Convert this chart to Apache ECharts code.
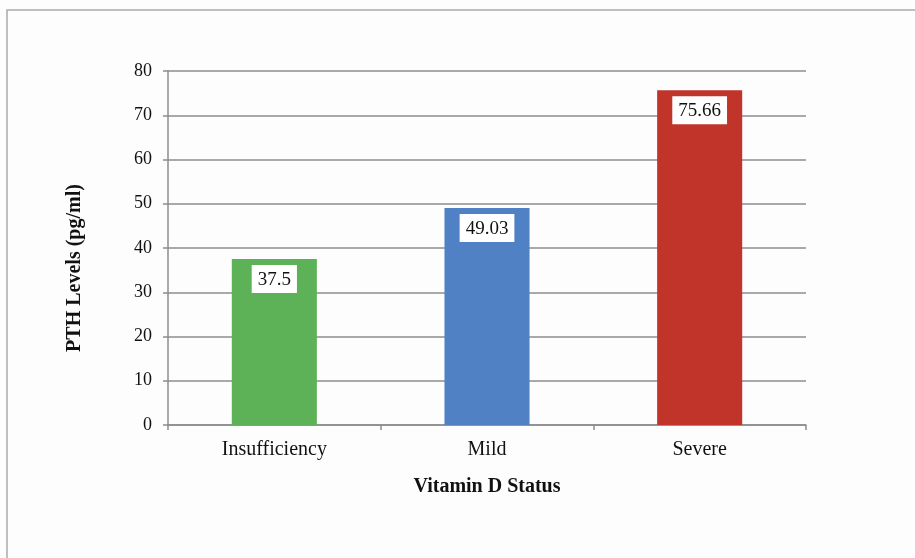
<!DOCTYPE html>
<html>
<head>
<meta charset="utf-8">
<script src="https://cdn.jsdelivr.net/npm/echarts@6/dist/echarts.min.js"></script>
<style>
  html, body { margin: 0; padding: 0; background: #fdfdfd; }
  #main { width: 915px; height: 558px; }
</style>
</head>
<body>
<div id="main"></div>
<script>
// data
var categories = ['Insufficiency', 'Mild', 'Severe'];
var pthValues = [37.5, 49.03, 75.66];
var barColors = ['#5db258', '#4f81c4', '#c0342a'];

var chart = echarts.init(document.getElementById('main'));
var serif = 'Liberation Serif';

var option = {
    backgroundColor: '#fdfdfd',
    animation: false,
    graphic: [{
        type: 'rect',
        shape: {x: 7, y: 10, width: 1000, height: 700},
        style: {fill: 'none', stroke: '#a9a9a9', lineWidth: 1.5}
    }],
    grid: {left: 168, top: 71, right: 109, bottom: 133},
    xAxis: {
        type: 'category',
        data: categories,
        name: 'Vitamin D Status',
        nameLocation: 'middle',
        nameGap: 52,
        nameTextStyle: {fontFamily: serif, fontSize: 20, fontWeight: 'bold', color: '#111'},
        axisLine: {lineStyle: {color: '#8c8c8c', width: 1.5}},
        axisTick: {show: true, length: 5, lineStyle: {color: '#8c8c8c', width: 1.5}},
        axisLabel: {fontFamily: serif, fontSize: 20, color: '#111', margin: 15}
    },
    yAxis: {
        type: 'value',
        min: 0,
        max: 80,
        interval: 10,
        name: 'PTH Levels (pg/ml)',
        nameLocation: 'middle',
        nameGap: 83,
        nameTextStyle: {fontFamily: serif, fontSize: 20, fontWeight: 'bold', color: '#111', padding: [0, 40, 0, 0]},
        axisLine: {show: true, lineStyle: {color: '#8c8c8c', width: 1.5}},
        axisTick: {show: true, length: 5, lineStyle: {color: '#8c8c8c', width: 1.5}},
        axisLabel: {fontFamily: serif, fontSize: 18, color: '#111', margin: 16},
        splitLine: {lineStyle: {color: '#8c8c8c', width: 1.5}}
    },
    series: [{
        type: 'bar',
        data: pthValues.map(function (v, i) {
            return {value: v, itemStyle: {color: barColors[i]}};
        }),
        barWidth: '40%',
        label: {
            show: true,
            position: 'insideTop',
            distance: 6,
            fontFamily: serif,
            fontSize: 19,
            color: '#111',
            backgroundColor: '#fff',
            padding: [5, 6, 4, 6]
        }
    }]
};

chart.setOption(option);
</script>
</body>
</html>
